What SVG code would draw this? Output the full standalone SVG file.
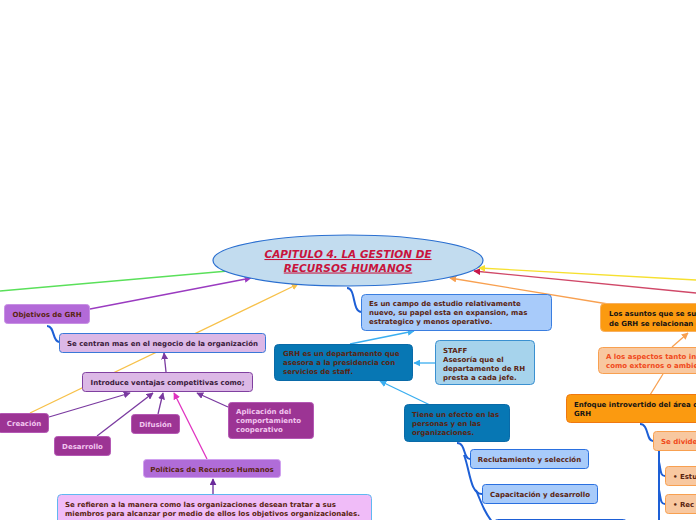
<svg xmlns="http://www.w3.org/2000/svg" width="696" height="520" viewBox="0 0 696 520">
<defs>
<style>
text{font-family:"DejaVu Sans",Verdana,sans-serif;font-weight:bold;font-size:7px}
.c{text-anchor:middle}
.dk{fill:#5a2410}
.pk{fill:#f2c6ef}
.bk{fill:#141414}
.rd{fill:#f04a1c}
.ln{fill:none;stroke-width:1.3}
.cur{fill:none;stroke:#1d5fd6;stroke-width:2}
</style>
<marker id="mPu" viewBox="0 0 10 10" refX="9" refY="5" markerWidth="7" markerHeight="7" orient="auto" markerUnits="userSpaceOnUse"><path d="M0,0L10,5L0,10z" fill="#9a3bc0"/></marker>
<marker id="mYe" viewBox="0 0 10 10" refX="9" refY="5" markerWidth="7" markerHeight="7" orient="auto" markerUnits="userSpaceOnUse"><path d="M0,0L10,5L0,10z" fill="#f7c14a"/></marker>
<marker id="mOr" viewBox="0 0 10 10" refX="9" refY="5" markerWidth="7" markerHeight="7" orient="auto" markerUnits="userSpaceOnUse"><path d="M0,0L10,5L0,10z" fill="#f8a050"/></marker>
<marker id="mCr" viewBox="0 0 10 10" refX="9" refY="5" markerWidth="7" markerHeight="7" orient="auto" markerUnits="userSpaceOnUse"><path d="M0,0L10,5L0,10z" fill="#c8184a"/></marker>
<marker id="mY2" viewBox="0 0 10 10" refX="9" refY="5" markerWidth="7" markerHeight="7" orient="auto" markerUnits="userSpaceOnUse"><path d="M0,0L10,5L0,10z" fill="#f6e030"/></marker>
<marker id="mLb" viewBox="0 0 10 10" refX="9" refY="5" markerWidth="7" markerHeight="7" orient="auto" markerUnits="userSpaceOnUse"><path d="M0,0L10,5L0,10z" fill="#3aaef0"/></marker>
<marker id="mVi" viewBox="0 0 10 10" refX="9" refY="5" markerWidth="7" markerHeight="7" orient="auto" markerUnits="userSpaceOnUse"><path d="M0,0L10,5L0,10z" fill="#7a3aa0"/></marker>
<marker id="mMg" viewBox="0 0 10 10" refX="9" refY="5" markerWidth="7" markerHeight="7" orient="auto" markerUnits="userSpaceOnUse"><path d="M0,0L10,5L0,10z" fill="#e030c0"/></marker>
<marker id="mPo" viewBox="0 0 10 10" refX="9" refY="5" markerWidth="7" markerHeight="7" orient="auto" markerUnits="userSpaceOnUse"><path d="M0,0L10,5L0,10z" fill="#6a2a9a"/></marker>
</defs>
<rect width="696" height="520" fill="#ffffff"/>

<g id="connectors">
<line class="ln" x1="0" y1="291" x2="228" y2="271" stroke="#5ae05a"/>
<line class="ln" x1="90" y1="309" x2="251" y2="278" stroke="#9a3bc0" marker-end="url(#mPu)"/>
<line class="ln" x1="30" y1="413" x2="298" y2="284" stroke="#f7c14a" marker-end="url(#mYe)"/>
<line class="ln" x1="608" y1="304" x2="450" y2="278" stroke="#f8a050" marker-end="url(#mOr)"/>
<line class="ln" x1="696" y1="293" x2="474" y2="271" stroke="#d04868" marker-end="url(#mCr)"/>
<line class="ln" x1="696" y1="280" x2="479" y2="268" stroke="#f6e030" marker-end="url(#mY2)"/>
<path class="cur" d="M347,288 C356,288 352,311 361,312"/>
<path class="cur" d="M47,326 C55,326 52,341 59,342"/>
<line class="ln" x1="166" y1="372" x2="164" y2="353" stroke="#7a3aa0" marker-end="url(#mVi)"/>
<line class="ln" x1="49" y1="417" x2="130" y2="393" stroke="#7a3aa0" marker-end="url(#mVi)"/>
<line class="ln" x1="97" y1="436" x2="153" y2="393" stroke="#7a3aa0" marker-end="url(#mVi)"/>
<line class="ln" x1="158" y1="414" x2="163" y2="393" stroke="#7a3aa0" marker-end="url(#mVi)"/>
<line class="ln" x1="207" y1="459" x2="174" y2="393" stroke="#e030c0" marker-end="url(#mMg)"/>
<line class="ln" x1="228" y1="407" x2="197" y2="393" stroke="#7a3aa0" marker-end="url(#mVi)"/>
<line class="ln" x1="213" y1="494" x2="213" y2="479" stroke="#6a2a9a" marker-end="url(#mPo)"/>
<line class="ln" x1="350" y1="344" x2="414" y2="331" stroke="#3aaef0" marker-end="url(#mLb)"/>
<line class="ln" x1="435" y1="363" x2="414" y2="363" stroke="#3aaef0" marker-end="url(#mLb)"/>
<line class="ln" x1="430" y1="405" x2="380" y2="381" stroke="#3aaef0" marker-end="url(#mLb)"/>
<path class="cur" d="M457,443 C466,443 463,459 470,459"/>
<path class="cur" d="M464,455 C470,470 470,494 482,494"/>
<path class="cur" d="M476,490 C482,505 486,515 494,524"/>
<line class="ln" x1="672" y1="347" x2="688" y2="333" stroke="#f8a050" marker-end="url(#mOr)"/>
<line class="ln" x1="650" y1="395" x2="663" y2="374" stroke="#f8a050"/>
<path class="cur" d="M640,424 C649,424 646,441 653,441"/>
<path class="cur" d="M659,451 L659,520"/>
<path class="cur" d="M659,462 C661,470 660,476 665,476"/>
<path class="cur" d="M659,490 C661,498 660,504 665,504"/>
</g>

<g id="central">
<ellipse cx="348" cy="260.5" rx="135" ry="25.5" fill="#c2dcef" stroke="#2a6fd0" stroke-width="1.2"/>
<text class="c" x="348" y="258" style="font-size:10.5px;font-style:italic;fill:#c8143c;text-decoration:underline">CAPITULO 4. LA GESTION DE</text>
<text class="c" x="348" y="271.5" style="font-size:10.5px;font-style:italic;fill:#c8143c;text-decoration:underline">RECURSOS HUMANOS</text>
</g>

<g id="objetivos">
<rect x="4.5" y="304.5" width="85" height="19" rx="3" fill="#b36ad8" stroke="#c890e4"/>
<text class="c dk" x="47" y="317">Objetivos de GRH</text>
</g>
<g id="se-centran">
<rect x="59.5" y="333.5" width="206" height="19" rx="3" fill="#dcb8e6" stroke="#3a78d8"/>
<text class="c" x="162.5" y="346" fill="#3a1a3a">Se centran mas en el negocio de la organización</text>
</g>
<g id="introduce">
<rect x="82.5" y="372.5" width="170" height="19" rx="3" fill="#dcb8e6" stroke="#8040a0"/>
<text class="c" x="167.5" y="385" fill="#3a1a3a">Introduce ventajas competitivas como;</text>
</g>
<g id="creacion">
<rect x="-2.5" y="413.5" width="51" height="19" rx="3" fill="#9c3494" stroke="#b458b4"/>
<text class="c pk" x="24" y="426">Creación</text>
</g>
<g id="desarrollo">
<rect x="54.5" y="436.5" width="56" height="19" rx="3" fill="#9c3494" stroke="#b458b4"/>
<text class="c pk" x="82.5" y="449">Desarrollo</text>
</g>
<g id="difusion">
<rect x="131.5" y="414.5" width="48" height="19" rx="3" fill="#9c3494" stroke="#b458b4"/>
<text class="c pk" x="155.5" y="427">Difusión</text>
</g>
<g id="aplicacion">
<rect x="228.5" y="402.5" width="85" height="36" rx="3" fill="#9c3494" stroke="#b458b4"/>
<text class="pk" x="236" y="414">Aplicación del</text>
<text class="pk" x="236" y="423">comportamiento</text>
<text class="pk" x="236" y="432">cooperativo</text>
</g>
<g id="politicas">
<rect x="143.5" y="459.5" width="137" height="18" rx="3" fill="#b06cd8" stroke="#d0a0f0"/>
<text class="c dk" x="212" y="472">Políticas de Recursos Humanos</text>
</g>
<g id="se-refieren">
<rect x="57.5" y="494.5" width="314" height="40" rx="4" fill="#f0bcf8" stroke="#60b8f0"/>
<text class="dk" x="65" y="507">Se refieren a la manera como las organizaciones desean tratar a sus</text>
<text class="dk" x="65" y="516">miembros para alcanzar por medio de ellos los objetivos organizacionales.</text>
</g>

<g id="es-un-campo">
<rect x="361.5" y="294.5" width="190" height="36" rx="4" fill="#a8cbfa" stroke="#3a7ee0"/>
<text class="dk" x="369" y="306">Es un campo de estudio relativamente</text>
<text class="dk" x="369" y="315">nuevo, su papel esta en expansion, mas</text>
<text class="dk" x="369" y="324">estrategico y menos operativo.</text>
</g>
<g id="grh-departamento">
<rect x="274.5" y="344.5" width="138" height="36" rx="4" fill="#0777b4" stroke="#0a6aa8"/>
<text class="dk" x="283" y="356">GRH es un departamento que</text>
<text class="dk" x="283" y="365">asesora a la presidencia con</text>
<text class="dk" x="283" y="374">servicios de staff.</text>
</g>
<g id="staff">
<rect x="435.5" y="340.5" width="99" height="44" rx="4" fill="#a6d3ec" stroke="#3a90d0"/>
<text class="dk" x="443" y="353">STAFF</text>
<text class="dk" x="443" y="362">Asesoría que el</text>
<text class="dk" x="443" y="371">departamento de RH</text>
<text class="dk" x="443" y="380">presta a cada jefe.</text>
</g>
<g id="tiene-efecto">
<rect x="404.5" y="404.5" width="105" height="37" rx="4" fill="#0777b4" stroke="#0a6aa8"/>
<text class="dk" x="412" y="417">Tiene un efecto en las</text>
<text class="dk" x="412" y="426">personas y en las</text>
<text class="dk" x="412" y="435">organizaciones.</text>
</g>
<g id="reclutamiento">
<rect x="470.5" y="449.5" width="118" height="19" rx="3" fill="#a8cbfa" stroke="#2a70e0"/>
<text class="c dk" x="529.5" y="462">Reclutamiento y selección</text>
</g>
<g id="capacitacion">
<rect x="482.5" y="484.5" width="115" height="19" rx="3" fill="#a8cbfa" stroke="#2a70e0"/>
<text class="c dk" x="540" y="497">Capacitación y desarrollo</text>
</g>
<g id="next-blue">
<rect x="494.5" y="519.5" width="132" height="20" rx="3" fill="#a8cbfa" stroke="#1d5fd6"/>
</g>

<g id="los-asuntos">
<rect x="600.5" y="303.5" width="110" height="28" rx="4" fill="#fb9a10" stroke="#f8b060"/>
<text class="bk" x="609" y="316">Los asuntos que se su</text>
<text class="bk" x="609" y="326">de GRH se relacionan c</text>
</g>
<g id="aspectos">
<rect x="598.5" y="347.5" width="110" height="26" rx="4" fill="#f8c8a0" stroke="#f8a050"/>
<text class="rd" x="606" y="359">A los aspectos tanto int</text>
<text class="rd" x="606" y="368">como externos o ambie</text>
</g>
<g id="enfoque">
<rect x="566.5" y="394.5" width="140" height="28" rx="4" fill="#fb9a10" stroke="#f07810"/>
<text class="bk" x="574" y="407">Enfoque introvertido del área de</text>
<text class="bk" x="574" y="416">GRH</text>
</g>
<g id="se-divide">
<rect x="653.5" y="431.5" width="50" height="19" rx="3" fill="#f8c8a0" stroke="#f8a050"/>
<text class="rd" x="661" y="444">Se divide</text>
</g>
<g id="estu">
<rect x="665.5" y="466.5" width="40" height="19" rx="3" fill="#f8c8a0" stroke="#f8a050"/>
<text class="dk" x="673" y="479">• Estu</text>
</g>
<g id="rec">
<rect x="665.5" y="494.5" width="40" height="19" rx="3" fill="#f8c8a0" stroke="#f8a050"/>
<text class="dk" x="673" y="507">• Rec</text>
</g>
</svg>
